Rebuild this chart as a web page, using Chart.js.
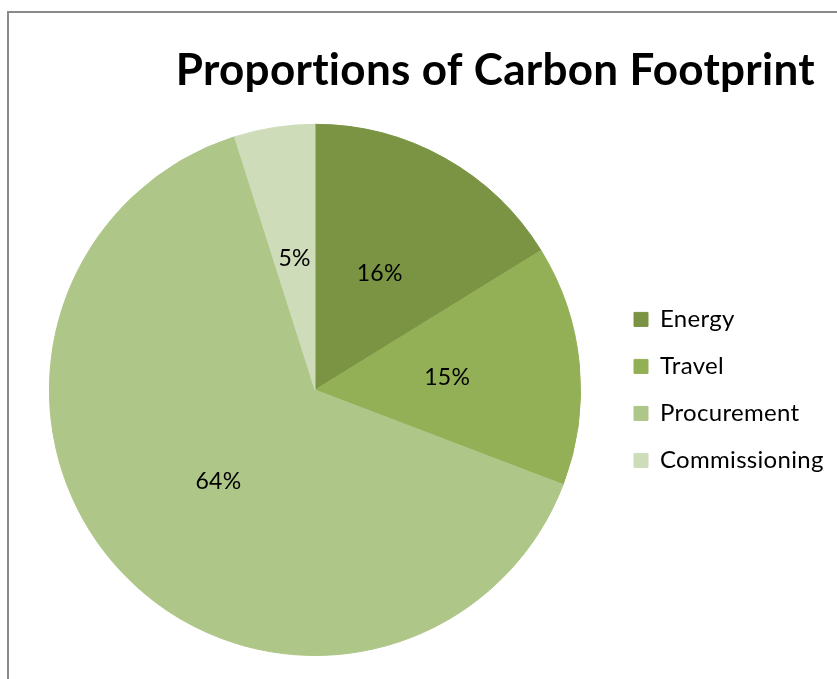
<!DOCTYPE html>
<html>
<head>
<meta charset="utf-8">
<script src="https://cdn.jsdelivr.net/npm/chart.js@4.4.0/dist/chart.umd.min.js"></script>
<style>
    html, body { margin: 0; padding: 0; background: #fff; overflow: hidden; }
    #frame {
        position: absolute; left: 7px; top: 11px;
        width: 830px; height: 668px;
        border-left: 2px solid #8a8a8a; border-top: 2px solid #8a8a8a;
    }
    #wrap { position: absolute; left: 0; top: 0; width: 828px; height: 666px; }
</style>
</head>
<body>
<div id="frame"><div id="wrap"><canvas id="pieChart"></canvas></div></div>
<script>
const categories = ['Energy', 'Travel', 'Procurement', 'Commissioning'];
const footprint = [16.2, 14.6, 64.3, 4.9];
const sliceColors = ['#7A9444', '#93B057', '#AEC688', '#CFDCBA'];

const FONT = 'Lato, "Open Sans", sans-serif';
const legendSize = 24;
const legendGap = 23;

function longestLabel() {
    const c = document.createElement('canvas').getContext('2d');
    c.font = legendSize + 'px ' + FONT;
    return Math.max(...categories.map(t => c.measureText(t).width));
}

// a tiny letter spacing keeps Lato from joining "ti"
const noLigatures = {
    id: 'noLigatures',
    beforeDraw(chart) {
        chart.ctx.letterSpacing = '0.3px';
    }
};

// title ends a bit left of the legend's right edge
const titleEdge = {
    id: 'titleEdge',
    afterLayout(chart) {
        if (chart.titleBlock) chart.titleBlock.right = 806;
    }
};

const percentLabels = {
    id: 'percentLabels',
    afterDatasetsDraw(chart) {
        const ctx = chart.ctx;
        const meta = chart.getDatasetMeta(0);
        const total = footprint.reduce((a, b) => a + b, 0);
        ctx.save();
        ctx.font = '23px ' + FONT;
        ctx.fillStyle = '#000';
        ctx.textAlign = 'center';
        ctx.textBaseline = 'middle';
        meta.data.forEach((arc, i) => {
            const p = arc.getProps(['x', 'y', 'startAngle', 'endAngle', 'outerRadius'], true);
            const mid = (p.startAngle + p.endAngle) / 2;
            const r = p.outerRadius * 0.5;
            ctx.fillText(Math.round(footprint[i] / total * 100) + '%',
                p.x + Math.cos(mid) * r, p.y + Math.sin(mid) * r);
        });
        ctx.restore();
    }
};

async function drawChart() {
    try {
        await Promise.all([
            document.fonts.load(legendSize + 'px Lato'),
            document.fonts.load('bold 44px Lato')
        ]);
    } catch (e) {
        console.error('font load', e);
    }

    // legend box = 10 slack + padding + box + gap + text (Chart.js v4)
    const legendW = 10 + legendGap + 14 + legendSize / 2 + longestLabel();
    const padRight = Math.max(0, 828 - 602 - legendW);

    const ctx = document.getElementById('pieChart').getContext('2d');
    new Chart(ctx, {
        type: 'pie',
        data: {
            labels: categories,
            datasets: [{
                data: footprint,
                backgroundColor: sliceColors,
                borderColor: sliceColors,
                borderWidth: 1
            }]
        },
        options: {
            responsive: true,
            maintainAspectRatio: false,
            animation: false,
            layout: {
                padding: { left: 10, right: padRight, top: 0, bottom: 23 }
            },
            plugins: {
                title: {
                    display: true,
                    text: 'Proportions of Carbon Footprint',
                    align: 'end',
                    color: '#000',
                    font: { family: FONT, size: 44, weight: 'bold', lineHeight: 1.2 },
                    padding: { top: 31, bottom: 27 }
                },
                legend: {
                    position: 'right',
                    fullSize: false,
                    labels: {
                        color: '#000',
                        font: { family: FONT, size: legendSize },
                        boxWidth: 14,
                        boxHeight: 14,
                        padding: legendGap
                    }
                },
                tooltip: { enabled: false }
            }
        },
        plugins: [noLigatures, titleEdge, percentLabels]
    });
}

document.addEventListener('DOMContentLoaded', drawChart);
</script>
</body>
</html>
